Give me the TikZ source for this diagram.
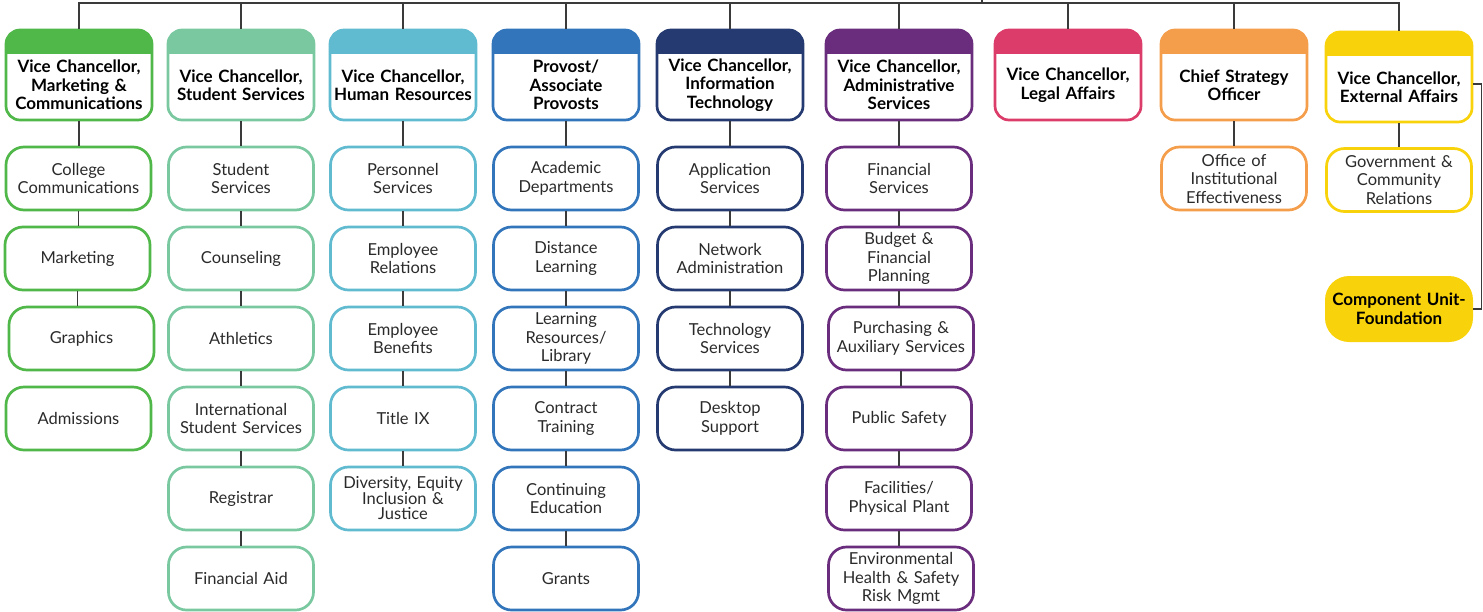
\documentclass[tikz,border=0pt]{standalone}
\usepackage{fontspec}
\setmainfont{Lato}
\usetikzlibrary{positioning}
\definecolor{cMkt}{HTML}{50B749}
\definecolor{cStu}{HTML}{7AC8A0}
\definecolor{cHum}{HTML}{60BAD0}
\definecolor{cPro}{HTML}{3275BB}
\definecolor{cInf}{HTML}{243A70}
\definecolor{cAdm}{HTML}{6A2C7C}
\definecolor{cLeg}{HTML}{DC3C69}
\definecolor{cStr}{HTML}{F49D4A}
\definecolor{cExt}{HTML}{F8D20A}
\definecolor{cLink}{HTML}{3A3A3A}
\definecolor{cText}{HTML}{2A2A2A}
\newcommand{\hdfont}{\fontsize{17}{18.5}\selectfont\bfseries}
\newcommand{\unfont}{\fontsize{16.5}{18.5}\selectfont}
\tikzset{
  head/.style={draw=#1, line width=2.7pt, rounded corners=14pt, minimum width=146pt,
    minimum height=90pt, inner sep=0pt,
    path picture={\fill[#1, sharp corners] (path picture bounding box.north west)
      rectangle ([yshift=-24pt]path picture bounding box.north east);}},
  hdtext/.style={text width=144pt, align=center, font=\hdfont, inner sep=0pt, yshift=-10pt},
  unit/.style={draw=#1, line width=2.7pt, rounded corners=18pt, minimum width=145pt,
    minimum height=63pt, text width=144pt, align=center, font=\unfont, text=cText, inner sep=0pt},
  found/.style={fill=cExt, rounded corners=24pt, minimum width=148pt, minimum height=66pt,
    text width=144pt, align=center, font=\hdfont, inner sep=0pt},
  link/.style={line width=1.4pt, draw=cLink},
}
\begin{document}
\begin{tikzpicture}[x=1pt, y=-1pt]
	\useasboundingbox (0,0) rectangle (1483,611);
	\coordinate (root) at (982,0);
	\coordinate (bus) at (982,3);
	% heads
	\node[head=cMkt, label={[hdtext]center:{Vice Chancellor,\\ Marketing \&\\ Communications}}] (h1) at (79,75) {};
	\node[head=cStu, label={[hdtext]center:{Vice Chancellor,\\ Student Services}}] (h2) at (241,75) {};
	\node[head=cHum, label={[hdtext]center:{Vice Chancellor,\\ Human Resources}}] (h3) at (403,75) {};
	\node[head=cPro, label={[hdtext]center:{Provost/\\ Associate\\ Provosts}}] (h4) at (566,75) {};
	\node[head=cInf, label={[hdtext]center:{Vice Chancellor,\\ Information\\ Technology}}] (h5) at (730,75) {};
	\node[head=cAdm, label={[hdtext]center:{Vice Chancellor,\\ Administrative\\ Services}}] (h6) at (899,75) {};
	\node[head=cLeg, label={[hdtext]center:{Vice Chancellor,\\ Legal Affairs}}] (h7) at (1068,75) {};
	\node[head=cStr, label={[hdtext]center:{Chief Strategy\\ Officer}}] (h8) at (1234,75) {};
	\node[head=cExt, label={[hdtext]center:{Vice Chancellor,\\ External Affairs}}] (h9) at (1399,77) {};
	% marketing
	\node[unit=cMkt] (m1) at (78.5,178.5) {College\\ Communications};
	\node[unit=cMkt] (m2) at (77.5,258.5) {Marketing};
	\node[unit=cMkt] (m3) at (81.5,338.5) {Graphics};
	\node[unit=cMkt] (m4) at (78.5,418.5) {Admissions};
	% student services
	\node[unit=cStu] (s1) at (241,178.5) {Student\\ Services};
	\node[unit=cStu] (s2) at (241,258.5) {Counseling};
	\node[unit=cStu] (s3) at (241,338.5) {Athletics};
	\node[unit=cStu] (s4) at (241,418.5) {International\\ Student Services};
	\node[unit=cStu] (s5) at (241,498.5) {Registrar};
	\node[unit=cStu] (s6) at (241,578.5) {Financial Aid};
	% human resources
	\node[unit=cHum] (r1) at (403,178.5) {Personnel\\ Services};
	\node[unit=cHum] (r2) at (403,258.5) {Employee\\ Relations};
	\node[unit=cHum] (r3) at (403,338.5) {Employee\\ Benefits};
	\node[unit=cHum] (r4) at (403,418.5) {Title IX};
	\node[unit=cHum, font=\fontsize{16.5}{15.5}\selectfont] (r5) at (403,498.5) {Diversity, Equity\\ Inclusion \&\\ Justice};
	% provost
	\node[unit=cPro] (p1) at (566,178.5) {Academic\\ Departments};
	\node[unit=cPro] (p2) at (566,258.5) {Distance\\ Learning};
	\node[unit=cPro] (p3) at (566,338.5) {Learning\\ Resources/\\ Library};
	\node[unit=cPro] (p4) at (566,418.5) {Contract\\ Training};
	\node[unit=cPro] (p5) at (566,498.5) {Continuing\\ Education};
	\node[unit=cPro] (p6) at (566,578.5) {Grants};
	% information technology
	\node[unit=cInf] (t1) at (730,178.5) {Application\\ Services};
	\node[unit=cInf] (t2) at (730,258.5) {Network\\ Administration};
	\node[unit=cInf] (t3) at (730,338.5) {Technology\\ Services};
	\node[unit=cInf] (t4) at (730,418.5) {Desktop\\ Support};
	% administrative services
	\node[unit=cAdm] (a1) at (899,178.5) {Financial\\ Services};
	\node[unit=cAdm] (a2) at (899,258.5) {Budget \&\\ Financial\\ Planning};
	\node[unit=cAdm] (a3) at (901,338.5) {Purchasing \&\\ Auxiliary Services};
	\node[unit=cAdm] (a4) at (899,418.5) {Public Safety};
	\node[unit=cAdm] (a5) at (899,498.5) {Facilities/\\ Physical Plant};
	\node[unit=cAdm] (a6) at (901,578.5) {Environmental\\ Health \& Safety\\ Risk Mgmt};
	% strategy, external
	\node[unit=cStr] (o1) at (1234,178.5) {Office of\\ Institutional\\ Effectiveness};
	\node[unit=cExt] (e1) at (1399,180) {Government \&\\ Community\\ Relations};
	\node[found] (cu) at (1399,309) {Component Unit-\\ Foundation};
	% links
	\draw[link] (root) -- (bus);
	\draw[link] (h1.north) |- (bus) -| (h9.north);
	\foreach \h in {h2,h3,h4,h5,h6,h7,h8}
		\draw[link] (bus) -| (\h.north);
	\foreach \a/\b in {h1/m1,m1/m2,m2/m3,h2/s1,s1/s2,s2/s3,s3/s4,s4/s5,s5/s6,
		h3/r1,r1/r2,r2/r3,r3/r4,r4/r5,h4/p1,p1/p2,p2/p3,p3/p4,p4/p5,p5/p6,
		h5/t1,t1/t2,t2/t3,t3/t4,h6/a1,a1/a2,a2/a3,a3/a4,a4/a5,a5/a6,h8/o1,h9/e1}
		\draw[link] (\a.south) -- (\a.south |- \b.north);
	\draw[link] ([yshift=-7pt]h9.east) -- ++(8,0) |- (cu.east);
\end{tikzpicture}
\end{document}
